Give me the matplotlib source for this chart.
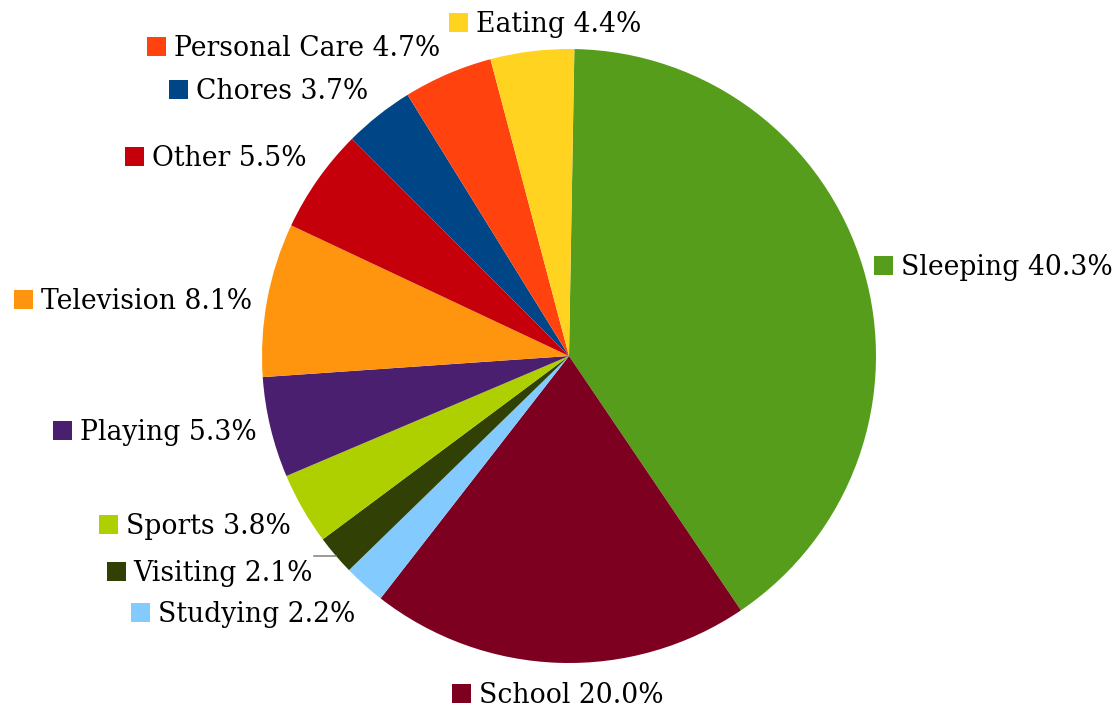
import matplotlib
matplotlib.use('Agg')
import matplotlib.pyplot as plt
from matplotlib.patches import Rectangle
import numpy as np

# data
activities = ['Sleeping', 'School', 'Studying', 'Visiting', 'Sports', 'Playing',
              'Television', 'Other', 'Chores', 'Personal Care', 'Eating']
shares = [40.3, 20.0, 2.2, 2.1, 3.8, 5.3, 8.1, 5.5, 3.7, 4.7, 4.4]
colors = ['#579d1c', '#7e0021', '#83caff', '#314004', '#aecf00', '#4b1f6f',
          '#ff950e', '#c5000b', '#004586', '#ff420e', '#ffd320']

# label layout: distance factor, angle nudge (deg), alignment
label_dist = [1.038, 1.10, 1.087, 1.089, 1.061, 1.045, 1.05, 1.073, 1.085, 1.091, 1.09]
label_nudge = [0, 0, 2.1, -0.4, 1.4, 0, 0.5, -2.2, -1.4, -0.6, -2.9]
label_align = ['left', 'center', 'right', 'right', 'right', 'right',
               'right', 'right', 'right', 'right', 'center']

W, H = 1116, 711
fig = plt.figure(figsize=(W / 100, H / 100), dpi=100)
ax = fig.add_axes([0, 0, 1, 1])

center = (569, 355)
radius = 307
wedges, _ = ax.pie(shares, colors=colors, startangle=89, counterclock=False,
                   center=center, radius=radius, wedgeprops=dict(linewidth=0))
ax.set_xlim(0, W)
ax.set_ylim(0, H)
ax.set_aspect('equal')
ax.axis('off')

renderer = fig.canvas.get_renderer()
sq = 19      # legend square size (px)
gap = 8      # square-to-text gap (px)
font = dict(family='DejaVu Serif', size=19.2, color='black')

for w, name, val, f, dth, al, col in zip(wedges, activities, shares, label_dist,
                                         label_nudge, label_align, colors):
    th = np.deg2rad((w.theta1 + w.theta2) / 2 + dth)
    axp = center[0] + f * radius * np.cos(th)
    ayp = center[1] + f * radius * np.sin(th)
    base = ayp - sq / 2
    t = ax.text(0, base, f'{name} {val:.1f}%', va='baseline', ha='left', **font)
    tw = t.get_window_extent(renderer).width
    if al == 'left':
        x0 = axp
    elif al == 'right':
        x0 = axp - tw - gap - sq
    else:
        x0 = axp - (tw + gap + sq) / 2
    t.set_x(x0 + sq + gap)
    ax.add_patch(Rectangle((x0, base), sq, sq, facecolor=col, edgecolor='none'))

    # leader line for the thin Visiting slice
    if name == 'Visiting':
        ly = ayp + 15
        edge_x = center[0] - np.sqrt(radius ** 2 - (ly - center[1]) ** 2)
        ax.plot([axp + 1, edge_x], [ly, ly], color='#808080', lw=1.1)

fig.savefig('out.png', dpi=100)
